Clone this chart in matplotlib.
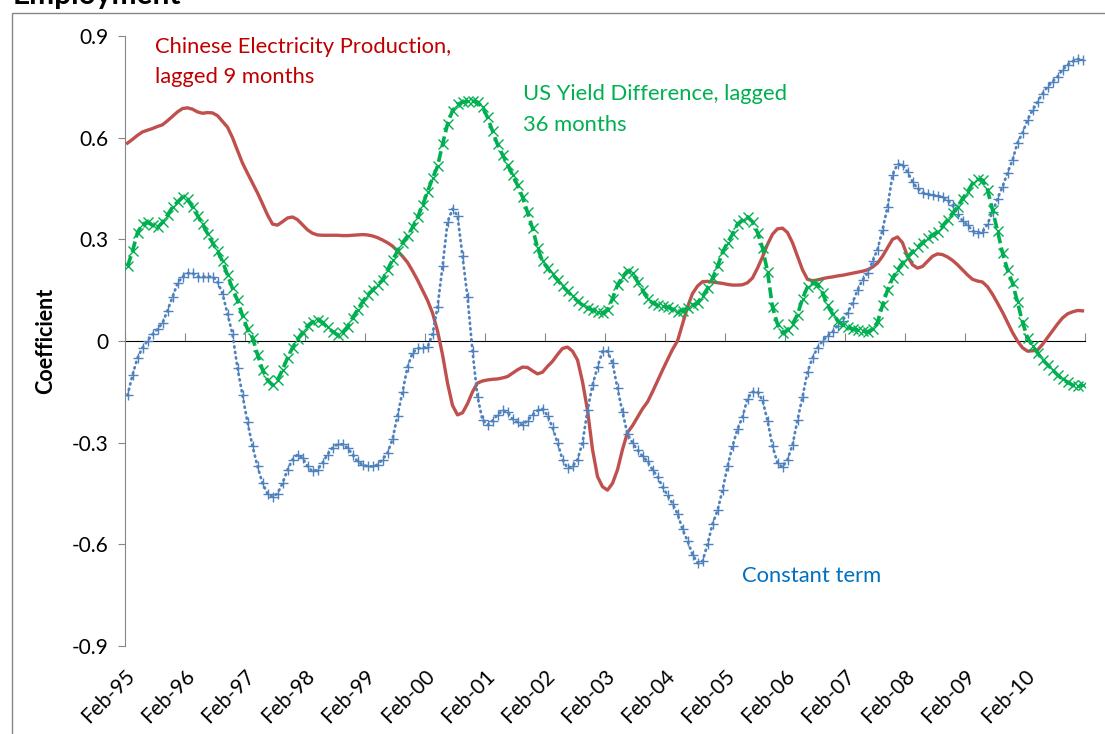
import numpy as np
import pandas as pd
import matplotlib
matplotlib.use('Agg')
import matplotlib.pyplot as plt
from matplotlib.patches import Rectangle

plt.rcParams['font.family'] = ['Lato', 'DejaVu Sans']

# monthly observations, Feb-95 .. Jan-11
months = pd.date_range('1995-02-01', periods=192, freq='MS')
tick_labels = [d.strftime('%b-%y') for d in months[::12]]

china_elec = [
    0.584, 0.595, 0.607, 0.617, 0.622, 0.627, 0.633, 0.638, 0.650, 0.663, 0.676, 0.686,
    0.688, 0.684, 0.676, 0.672, 0.674, 0.673, 0.665, 0.648, 0.631, 0.600, 0.562, 0.525,
    0.495, 0.466, 0.437, 0.405, 0.372, 0.345, 0.342, 0.352, 0.363, 0.366, 0.358, 0.343,
    0.328, 0.318, 0.313, 0.312, 0.312, 0.312, 0.312, 0.311, 0.311, 0.312, 0.313, 0.314,
    0.313, 0.310, 0.305, 0.298, 0.290, 0.280, 0.266, 0.250, 0.232, 0.207, 0.180, 0.150,
    0.120, 0.083, 0.030, -0.040, -0.124, -0.190, -0.218, -0.212, -0.185, -0.150, -0.124, -0.118,
    -0.115, -0.113, -0.112, -0.109, -0.105, -0.095, -0.085, -0.077, -0.078, -0.088, -0.097, -0.092,
    -0.075, -0.060, -0.040, -0.022, -0.018, -0.030, -0.056, -0.120, -0.204, -0.320, -0.400, -0.430,
    -0.440, -0.420, -0.380, -0.320, -0.270, -0.250, -0.225, -0.200, -0.180, -0.150, -0.118, -0.086,
    -0.055, -0.025, 0.000, 0.050, 0.100, 0.140, 0.162, 0.175, 0.176, 0.174, 0.172, 0.170,
    0.167, 0.165, 0.165, 0.166, 0.172, 0.186, 0.215, 0.248, 0.285, 0.315, 0.331, 0.333,
    0.320, 0.290, 0.250, 0.210, 0.182, 0.178, 0.180, 0.184, 0.187, 0.189, 0.192, 0.194,
    0.197, 0.200, 0.203, 0.206, 0.210, 0.218, 0.230, 0.250, 0.275, 0.300, 0.307, 0.290,
    0.250, 0.225, 0.215, 0.220, 0.235, 0.250, 0.257, 0.255, 0.248, 0.238, 0.225, 0.210,
    0.195, 0.182, 0.177, 0.174, 0.160, 0.138, 0.112, 0.085, 0.055, 0.025, 0.000, -0.020,
    -0.030, -0.029, -0.027, -0.010, 0.010, 0.030, 0.050, 0.068, 0.080, 0.086, 0.090, 0.089,
]

us_yield = [
    0.220, 0.265, 0.320, 0.345, 0.350, 0.342, 0.335, 0.350, 0.372, 0.395, 0.410, 0.425,
    0.418, 0.395, 0.370, 0.345, 0.317, 0.290, 0.265, 0.235, 0.195, 0.155, 0.120, 0.075,
    0.035, 0.010, -0.040, -0.085, -0.115, -0.130, -0.115, -0.085, -0.050, -0.020, 0.005, 0.025,
    0.045, 0.056, 0.062, 0.055, 0.040, 0.028, 0.018, 0.025, 0.042, 0.068, 0.092, 0.115,
    0.136, 0.150, 0.165, 0.180, 0.210, 0.239, 0.265, 0.290, 0.310, 0.335, 0.365, 0.400,
    0.440, 0.480, 0.515, 0.580, 0.640, 0.680, 0.698, 0.705, 0.708, 0.708, 0.705, 0.690,
    0.660, 0.620, 0.580, 0.550, 0.520, 0.490, 0.460, 0.425, 0.380, 0.333, 0.275, 0.235,
    0.215, 0.197, 0.180, 0.162, 0.147, 0.132, 0.118, 0.106, 0.098, 0.091, 0.086, 0.083,
    0.092, 0.125, 0.165, 0.190, 0.207, 0.200, 0.175, 0.150, 0.125, 0.112, 0.106, 0.103,
    0.100, 0.093, 0.087, 0.090, 0.097, 0.105, 0.113, 0.132, 0.155, 0.185, 0.220, 0.262,
    0.290, 0.315, 0.345, 0.357, 0.366, 0.352, 0.320, 0.275, 0.205, 0.100, 0.050, 0.024,
    0.032, 0.050, 0.078, 0.125, 0.160, 0.170, 0.168, 0.142, 0.105, 0.080, 0.060, 0.048,
    0.040, 0.036, 0.033, 0.030, 0.027, 0.035, 0.055, 0.105, 0.150, 0.185, 0.210, 0.230,
    0.248, 0.263, 0.277, 0.290, 0.304, 0.313, 0.322, 0.340, 0.357, 0.377, 0.395, 0.420,
    0.440, 0.465, 0.477, 0.475, 0.446, 0.387, 0.325, 0.260, 0.210, 0.171, 0.115, 0.055,
    0.010, -0.015, -0.035, -0.055, -0.070, -0.085, -0.100, -0.113, -0.122, -0.130, -0.132, -0.130,
]

constant = [
    -0.160, -0.100, -0.050, -0.020, 0.000, 0.020, 0.035, 0.053, 0.090, 0.130, 0.170, 0.190,
    0.200, 0.200, 0.190, 0.190, 0.190, 0.190, 0.175, 0.140, 0.080, 0.020, -0.080, -0.160,
    -0.240, -0.310, -0.370, -0.420, -0.450, -0.460, -0.450, -0.420, -0.380, -0.350, -0.335, -0.345,
    -0.370, -0.385, -0.380, -0.360, -0.335, -0.315, -0.305, -0.305, -0.315, -0.335, -0.355, -0.365,
    -0.370, -0.370, -0.365, -0.350, -0.330, -0.290, -0.220, -0.150, -0.077, -0.035, -0.022, -0.020,
    -0.018, 0.020, 0.100, 0.220, 0.350, 0.390, 0.370, 0.250, 0.130, -0.030, -0.165, -0.233,
    -0.248, -0.235, -0.218, -0.205, -0.210, -0.230, -0.240, -0.248, -0.235, -0.218, -0.205, -0.200,
    -0.220, -0.255, -0.300, -0.350, -0.375, -0.370, -0.350, -0.300, -0.205, -0.130, -0.077, -0.030,
    -0.030, -0.065, -0.140, -0.210, -0.275, -0.300, -0.322, -0.340, -0.355, -0.380, -0.400, -0.430,
    -0.455, -0.480, -0.510, -0.555, -0.590, -0.630, -0.655, -0.650, -0.600, -0.540, -0.500, -0.440,
    -0.370, -0.310, -0.260, -0.224, -0.170, -0.150, -0.150, -0.175, -0.235, -0.310, -0.360, -0.372,
    -0.350, -0.307, -0.233, -0.165, -0.091, -0.050, -0.020, 0.000, 0.015, 0.027, 0.045, 0.060,
    0.083, 0.112, 0.150, 0.180, 0.200, 0.235, 0.270, 0.328, 0.395, 0.490, 0.522, 0.520,
    0.499, 0.470, 0.450, 0.438, 0.434, 0.431, 0.428, 0.425, 0.415, 0.400, 0.375, 0.355,
    0.342, 0.325, 0.319, 0.322, 0.345, 0.380, 0.420, 0.455, 0.496, 0.534, 0.585, 0.614,
    0.652, 0.681, 0.705, 0.730, 0.750, 0.765, 0.780, 0.800, 0.815, 0.825, 0.832, 0.829,
]

gray = '#868686'
x = np.arange(len(months)) + 0.5

fig = plt.figure(figsize=(11.05, 7.34), dpi=100)
ax = fig.add_axes([125 / 1105, 1 - 646 / 734, 960 / 1105, 610 / 734])

ax.plot(x, china_elec, color='#C0504D', lw=2.4, zorder=3)
ax.plot(x, constant, color='#4F81BD', lw=2.0, linestyle=(0, (0.4, 1.6)),
        dash_capstyle='round', marker='+', ms=7.5, mew=1.0, zorder=4)
ax.plot(x, us_yield, color='#00B050', lw=2.6, linestyle=(0, (3, 1.2)),
        marker='x', ms=6.5, mew=1.0, zorder=5)

ax.set_xlim(0, len(months))
ax.set_ylim(-0.9, 0.9)
ax.set_yticks(np.arange(-0.9, 0.91, 0.3))
ax.set_yticklabels(['-0.9', '-0.6', '-0.3', '0', '0.3', '0.6', '0.9'])
ax.set_xticks(np.arange(0, len(months), 12))
ax.set_xticklabels(tick_labels, rotation=45, ha='right', rotation_mode='anchor')

for s in ['top', 'right', 'bottom']:
    ax.spines[s].set_visible(False)
ax.spines['left'].set_color(gray)
ax.tick_params(axis='y', direction='out', length=5, color=gray, labelsize=15, pad=7)
ax.tick_params(axis='x', length=0, labelsize=15, pad=14)

# horizontal axis line drawn at zero with its tick marks
zax = ax.secondary_xaxis(0.5)
zax.set_xticks(np.arange(0, len(months) + 1, 12))
zax.set_xticklabels([])
zax.spines['bottom'].set_color(gray)
zax.tick_params(direction='out', length=6, color=gray)

ax.set_ylabel('Coefficient', fontsize=15.5, fontweight='bold', labelpad=11)

ax.text(6, 0.897, 'Chinese Electricity Production,\nlagged 9 months', color='#C00000',
        fontsize=15.8, va='top', linespacing=1.65)
ax.text(79.6, 0.758, 'US Yield Difference, lagged\n36 months', color='#00B050',
        fontsize=15.8, va='top', linespacing=1.65)
ax.text(123.4, -0.693, 'Constant term', color='#0070C0', fontsize=15.8, va='center')

fig.text(13 / 1105, 1 - 4 / 734, 'Employment', fontsize=21.5, fontweight='bold', va='baseline')
fig.patches.append(Rectangle((12 / 1105, -0.1), 1.2, 1.1 - 13 / 734, transform=fig.transFigure,
                             fill=False, edgecolor=gray, lw=1))

fig.savefig('out.png', dpi=100)
